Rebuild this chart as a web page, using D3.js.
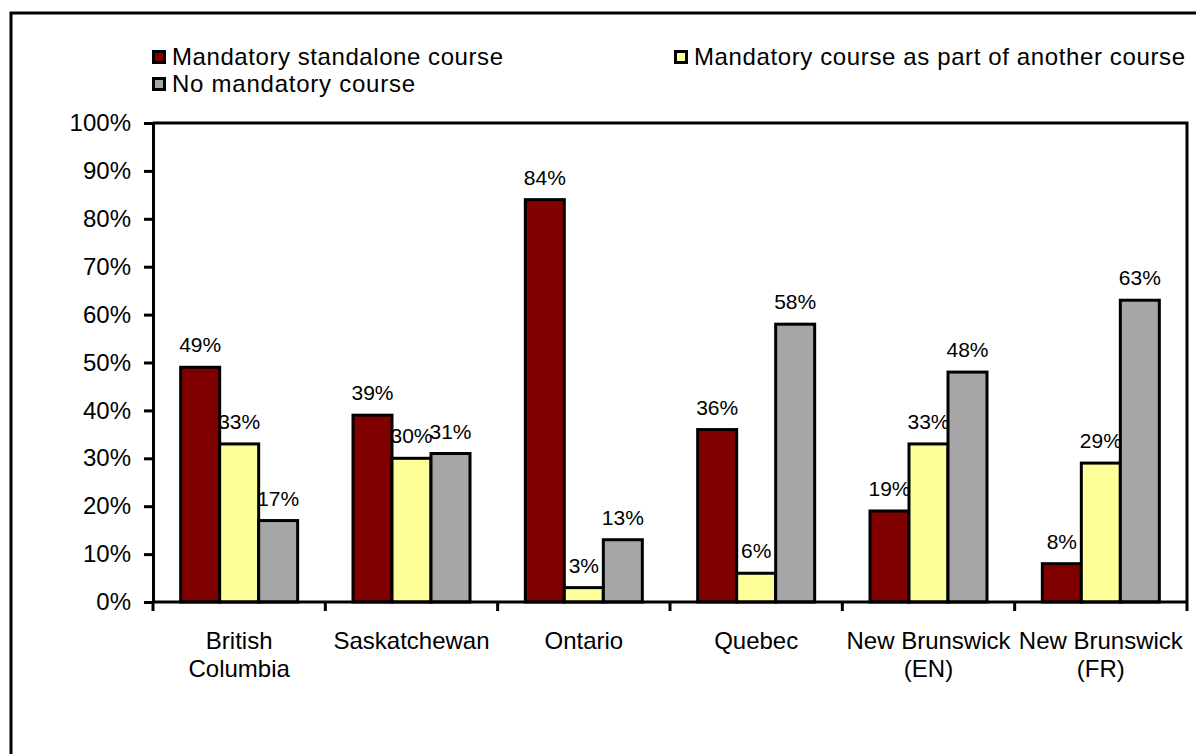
<!DOCTYPE html>
<html>
<head>
  <title>Mandatory course by province</title>
  <script src="https://d3js.org/d3.v7.min.js"></script>
  <style>
    body { margin: 0; background: #fff; }
    svg { font-family: Arial, "Liberation Sans", sans-serif; }
    .bar { stroke: #000; stroke-width: 3px; }
    .axis path, .axis line { stroke: #000; stroke-width: 3px; }
    .axis text { font-size: 24px; fill: #000; }
  </style>
</head>
<body>
  <svg width="1196" height="754"></svg>

  <script>
    const categories = ["British\nColumbia", "Saskatchewan", "Ontario", "Quebec", "New Brunswick\n(EN)", "New Brunswick\n(FR)"];
    const seriesNames = ["Mandatory standalone course", "Mandatory course as part of another course", "No mandatory course"];
    const standalone = [49, 39, 84, 36, 19, 8];
    const partOfAnother = [33, 30, 3, 6, 33, 29];
    const noMandatory = [17, 31, 13, 58, 48, 63];
    const colors = ["#800000", "#FFFF99", "#A6A6A6"];
    const yTicks = [0, 10, 20, 30, 40, 50, 60, 70, 80, 90, 100];

    const series = [standalone, partOfAnother, noMandatory];

    const svg = d3.select("svg");
    const margin = { top: 123, right: 9, bottom: 152, left: 153 };
    const width = +svg.attr("width");
    const height = +svg.attr("height");

    // outer frame (runs off the picture on the right and bottom)
    svg.append("rect")
      .attr("x", 11).attr("y", 13)
      .attr("width", 1300).attr("height", 900)
      .attr("fill", "none")
      .attr("stroke", "#000")
      .attr("stroke-width", 3);

    const x0 = d3.scaleBand()
      .domain(categories)
      .range([margin.left, width - margin.right])
      .padding(0);

    const inner = (x0.bandwidth() - 117) / 2;
    const x1 = d3.scaleBand()
      .domain(d3.range(series.length))
      .range([inner, x0.bandwidth() - inner]);

    const y = d3.scaleLinear()
      .domain([0, 100])
      .range([height - margin.bottom, margin.top]);

    // plot area border (top and right)
    svg.append("path")
      .attr("d", `M${margin.left},${y(100)}H${x0.range()[1]}V${y(0)}`)
      .attr("fill", "none")
      .attr("stroke", "#000")
      .attr("stroke-width", 3);

    // bars
    const groups = svg.append("g").selectAll("g")
      .data(categories)
      .join("g")
      .attr("transform", d => `translate(${x0(d)},0)`);

    groups.selectAll("rect")
      .data((c, i) => series.map((s, k) => ({ k, value: s[i] })))
      .join("rect")
      .attr("class", "bar")
      .attr("x", d => x1(d.k))
      .attr("width", x1.bandwidth())
      .attr("y", d => y(d.value))
      .attr("height", d => y(0) - y(d.value))
      .attr("fill", d => colors[d.k]);

    groups.selectAll("text")
      .data((c, i) => series.map((s, k) => ({ k, value: s[i] })))
      .join("text")
      .attr("x", d => x1(d.k) + x1.bandwidth() / 2)
      .attr("y", d => y(d.value) - 15)
      .attr("text-anchor", "middle")
      .attr("font-size", "21px")
      .attr("fill", "#000")
      .text(d => d.value + "%");

    // y axis
    svg.append("g")
      .attr("class", "axis")
      .attr("transform", `translate(${margin.left},0)`)
      .call(d3.axisLeft(y).tickValues(yTicks).tickFormat(d => d + "%")
        .tickSize(9).tickSizeOuter(0).tickPadding(13));

    // x axis: line, boundary ticks, labels
    const xAxis = svg.append("g").attr("class", "axis");
    xAxis.append("line")
      .attr("x1", margin.left).attr("x2", x0.range()[1])
      .attr("y1", y(0)).attr("y2", y(0));

    const bounds = categories.map(c => x0(c)).concat([x0.range()[1]]);
    xAxis.selectAll(".tick-x")
      .data(bounds)
      .join("line")
      .attr("x1", d => d).attr("x2", d => d)
      .attr("y1", y(0)).attr("y2", y(0) + 9);

    xAxis.selectAll(".cat")
      .data(categories)
      .join("text")
      .attr("text-anchor", "middle")
      .selectAll("tspan")
      .data(c => c.split("\n").map(line => ({ c, line })))
      .join("tspan")
      .attr("x", d => x0(d.c) + x0.bandwidth() / 2)
      .attr("y", (d, i) => y(0) + 47 + i * 28)
      .text(d => d.line);

    // legend
    const legendItems = [
      { k: 0, x: 152, y: 50, w: 331 },
      { k: 1, x: 674, y: 50, w: 491 },
      { k: 2, x: 152, y: 77, w: 243 }
    ];
    const legend = svg.append("g").selectAll("g")
      .data(legendItems)
      .join("g")
      .attr("transform", d => `translate(${d.x},${d.y})`);

    legend.append("rect")
      .attr("x", 1.5).attr("y", 1.5)
      .attr("width", 11).attr("height", 11)
      .attr("fill", d => colors[d.k])
      .attr("stroke", "#000")
      .attr("stroke-width", 3);

    legend.append("text")
      .attr("x", 20)
      .attr("y", 15)
      .attr("font-size", "24px")
      .attr("fill", "#000")
      .attr("textLength", d => d.w)
      .attr("lengthAdjust", "spacing")
      .text(d => seriesNames[d.k]);
  </script>
</body>
</html>
